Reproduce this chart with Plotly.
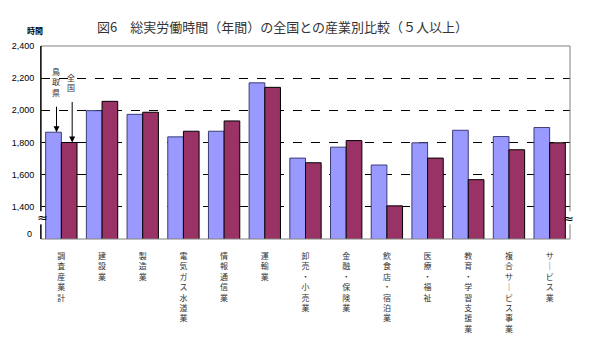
import plotly.graph_objects as go

categories = ["調査産業計", "建設業", "製造業", "電気ガス水道業", "情報通信業", "運輸業",
              "卸売・小売業", "金融・保険業", "飲食店・宿泊業", "医療・福祉",
              "教育・学習支援業", "複合サービス事業", "サービス業"]
tottori = [1864, 1998, 1975, 1835, 1870, 2171, 1703, 1771, 1660, 1798, 1876, 1837, 1893]
national = [1800, 2056, 1988, 1870, 1934, 2143, 1674, 1812, 1406, 1703, 1569, 1755, 1798]
ytick_vals = [1400, 1600, 1800, 2000, 2200, 2400]
ytick_text = ["1,400", "1,600", "1,800", "2,000", "2,200", "2,400"]

JP = "Noto Sans CJK JP"

def vertical(s):
    return "<br>".join(ch if ch != "ー" else "｜" for ch in s)

x = list(range(len(categories)))

fig = go.Figure()
fig.add_trace(go.Bar(x=x, y=tottori, name="鳥取県",
                     marker=dict(color="#9999FF", line=dict(color="#3c3c78", width=1))))
fig.add_trace(go.Bar(x=x, y=national, name="全国",
                     marker=dict(color="#993366", line=dict(color="#000000", width=1))))

fig.update_layout(
    width=604, height=349,
    margin=dict(l=41, r=34, t=46, b=110),
    paper_bgcolor="white", plot_bgcolor="white",
    barmode="group", bargap=0.23, bargroupgap=0,
    showlegend=False,
    font=dict(family=JP, color="#000000"),
    xaxis=dict(range=[-0.5, len(categories) - 0.5], tickvals=x,
               ticktext=[vertical(c) for c in categories],
               tickfont=dict(size=8, family=JP, color="#333333"),
               showgrid=False, zeroline=False, showline=False, ticks="",
               ticklabelstandoff=11),
    yaxis=dict(range=[1200, 2400], tickvals=ytick_vals, ticktext=ytick_text,
               tickfont=dict(size=9, family="Liberation Sans", color="#000000"),
               showgrid=True, gridcolor="#000000", griddash="dash", gridwidth=1,
               zeroline=False, showline=True, linecolor="#000000", linewidth=1,
               ticks="inside", ticklen=4, tickcolor="#000000",
               ticklabelstandoff=4),
)

# plot frame (gray) on top/right/bottom
fig.add_shape(type="rect", xref="paper", yref="paper", x0=0, x1=1, y0=0, y1=1,
              line=dict(color="#808080", width=1), layer="above")
fig.add_shape(type="line", xref="paper", yref="paper", x0=0, x1=0, y0=0, y1=1,
              line=dict(color="#000000", width=1), layer="above")
# axis break gaps
for xp in (0, 1):
    fig.add_shape(type="rect", xref="paper", yref="y", x0=xp - 0.006, x1=xp + 0.006,
                  y0=1291, y1=1373, fillcolor="white", line=dict(width=0), layer="above")
fig.add_annotation(xref="paper", yref="y", x=-0.012, y=1335, text="≈", showarrow=False,
                   font=dict(size=13, family="DejaVu Sans", color="#000000"))
fig.add_annotation(xref="paper", yref="y", x=1.012, y=1325, text="≈", showarrow=False,
                   font=dict(size=13, family="DejaVu Sans", color="#000000"))
# "0" label at the bottom of the broken axis
fig.add_annotation(xref="paper", yref="y", x=0, y=1232, text="0", showarrow=False,
                   xanchor="right", xshift=-7,
                   font=dict(size=9, family="Liberation Sans", color="#000000"))

# unit label
fig.add_annotation(xref="paper", yref="paper", x=-0.03, y=1.0, yshift=23, text="<b>時間</b>",
                   showarrow=False, font=dict(size=8, family=JP, color="#000000"))

# title
fig.add_annotation(xref="paper", yref="paper", x=0.457, y=1.0, yshift=31,
                   text="図6　総実労働時間（年間）の全国との産業別比較（５人以上）",
                   showarrow=False, font=dict(size=13, family=JP, color="#333333"))

# arrows to first group
bw = (1 - 0.23) / 2
fig.add_annotation(x=0 - bw / 2, y=tottori[0], xshift=3, ax=0, ay=-27,
                   text="", showarrow=True, arrowhead=2, arrowsize=1.2, arrowwidth=1,
                   arrowcolor="#000000")
fig.add_annotation(x=0 + bw / 2, y=national[0], xshift=3, ax=0, ay=-42,
                   text="", showarrow=True, arrowhead=2, arrowsize=1.2, arrowwidth=1,
                   arrowcolor="#000000")
fig.add_annotation(x=0 - bw / 2, y=tottori[0], xshift=2, yshift=50, text=vertical("鳥取県"),
                   showarrow=False, font=dict(size=8, family=JP, color="#333333"))
fig.add_annotation(x=0 + bw / 2, y=national[0], xshift=2, yshift=60, text=vertical("全国"),
                   showarrow=False, font=dict(size=8, family=JP, color="#333333"))

fig.write_html("out.html")
